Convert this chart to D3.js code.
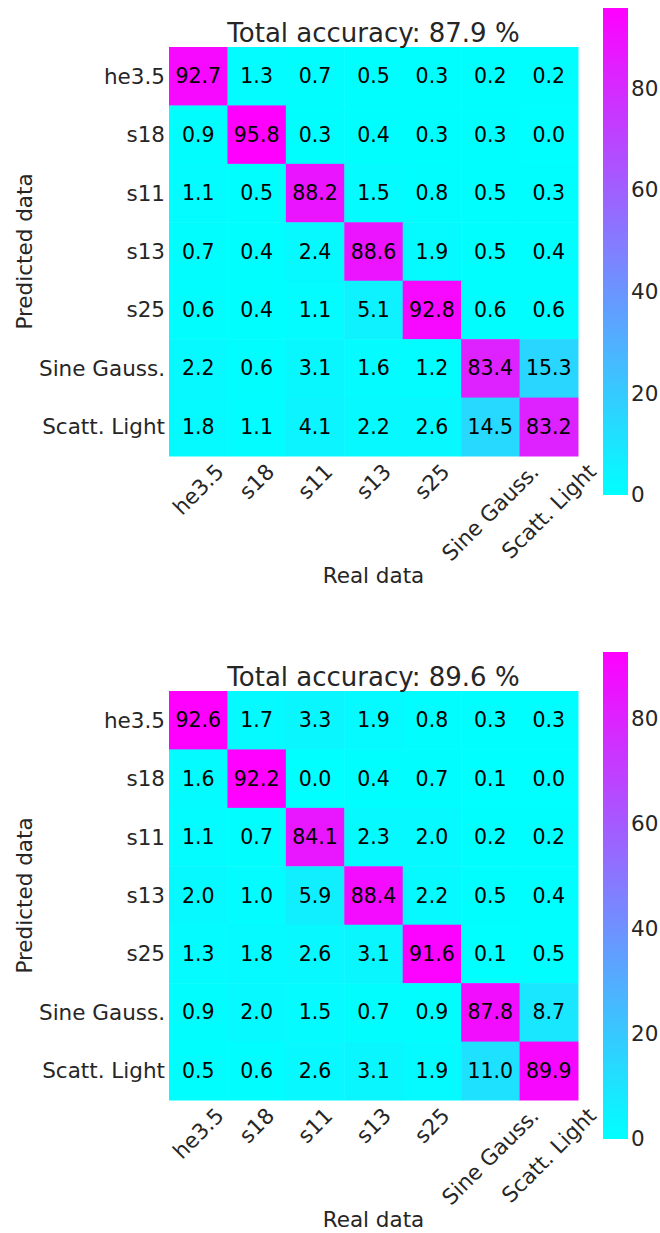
<!DOCTYPE html>
<html>
<head>
<meta charset="utf-8">
<script src="https://cdn.jsdelivr.net/npm/d3@7"></script>
<style>
  html, body { margin: 0; padding: 0; background: #fff; }
  svg { display: block; font-family: "DejaVu Sans", sans-serif; }
</style>
</head>
<body>
<svg id="chart" width="660" height="1233"></svg>
<script>
// ---- data ----
const categories = ["he3.5", "s18", "s11", "s13", "s25", "Sine Gauss.", "Scatt. Light"];
const valuesTop = [
  [92.7, 1.3, 0.7, 0.5, 0.3, 0.2, 0.2],
  [0.9, 95.8, 0.3, 0.4, 0.3, 0.3, 0.0],
  [1.1, 0.5, 88.2, 1.5, 0.8, 0.5, 0.3],
  [0.7, 0.4, 2.4, 88.6, 1.9, 0.5, 0.4],
  [0.6, 0.4, 1.1, 5.1, 92.8, 0.6, 0.6],
  [2.2, 0.6, 3.1, 1.6, 1.2, 83.4, 15.3],
  [1.8, 1.1, 4.1, 2.2, 2.6, 14.5, 83.2]
];
const valuesBottom = [
  [92.6, 1.7, 3.3, 1.9, 0.8, 0.3, 0.3],
  [1.6, 92.2, 0.0, 0.4, 0.7, 0.1, 0.0],
  [1.1, 0.7, 84.1, 2.3, 2.0, 0.2, 0.2],
  [2.0, 1.0, 5.9, 88.4, 2.2, 0.5, 0.4],
  [1.3, 1.8, 2.6, 3.1, 91.6, 0.1, 0.5],
  [0.9, 2.0, 1.5, 0.7, 0.9, 87.8, 8.7],
  [0.5, 0.6, 2.6, 3.1, 1.9, 11.0, 89.9]
];
const accuracies = [87.9, 89.6];
const colorbarTicks = [0, 20, 40, 60, 80];
const xLabel = "Real data";
const yLabel = "Predicted data";

// ---- drawing ----
const svg = d3.select("#chart");
const textColor = "#262626";
const cool = d3.interpolateRgb("#00ffff", "#ff00ff");

function drawPanel(offsetY, values, accuracy, idx) {
  const g = svg.append("g").attr("transform", `translate(0,${offsetY})`);
  const left = 169, right = 578, top = 47, bottom = 456;
  const x = d3.scaleBand().domain(categories).range([left, right]);
  const y = d3.scaleBand().domain(categories).range([top, bottom]);
  const vmax = d3.max(values.flat());
  const color = d3.scaleSequential(cool).domain([0, vmax]);

  const cells = [];
  values.forEach((row, i) => row.forEach((v, j) => cells.push({r: categories[i], c: categories[j], v})));

  g.selectAll("rect.cell").data(cells).join("rect")
    .attr("class", "cell")
    .attr("x", d => x(d.c)).attr("y", d => y(d.r))
    .attr("width", x.bandwidth() + 0.5).attr("height", y.bandwidth() + 0.5)
    .attr("fill", d => color(d.v));

  g.selectAll("text.annot").data(cells).join("text")
    .attr("class", "annot")
    .attr("x", d => x(d.c) + x.bandwidth() / 2)
    .attr("y", d => y(d.r) + y.bandwidth() / 2)
    .attr("text-anchor", "middle").attr("dominant-baseline", "central")
    .attr("font-size", 20.5).attr("fill", "#000")
    .text(d => d.v.toFixed(1));

  // y tick labels
  g.selectAll("text.ytick").data(categories).join("text")
    .attr("class", "ytick")
    .attr("x", left - 4)
    .attr("y", d => y(d) + y.bandwidth() / 2)
    .attr("text-anchor", "end").attr("dominant-baseline", "central")
    .attr("font-size", 21.5).attr("fill", textColor)
    .text(d => d);

  // x tick labels rotated 45, centered on tick (matplotlib ha=center)
  const xt = g.selectAll("text.xtick").data(categories).join("text")
    .attr("class", "xtick")
    .attr("text-anchor", "middle").attr("dominant-baseline", "central")
    .attr("font-size", 21.5).attr("fill", textColor)
    .text(d => d);
  xt.each(function(d) {
    const L = this.getComputedTextLength();
    const H = 21.5 * 1.16;
    const half = (L + H) * Math.SQRT1_2 / 2;
    const cx = x(d) + x.bandwidth() / 2;
    const cy = bottom + 3 + half;
    d3.select(this).attr("x", cx).attr("y", cy)
      .attr("transform", `rotate(-45,${cx},${cy})`);
  });

  // axis labels
  g.append("text")
    .attr("x", (left + right) / 2).attr("y", 583)
    .attr("text-anchor", "middle").attr("font-size", 21.5).attr("fill", textColor)
    .text(xLabel);
  g.append("text")
    .attr("transform", `translate(32,${(top + bottom) / 2}) rotate(-90)`)
    .attr("text-anchor", "middle").attr("font-size", 21.5).attr("fill", textColor)
    .text(yLabel);

  // title
  g.append("text")
    .attr("x", (left + right) / 2).attr("y", 42)
    .attr("text-anchor", "middle").attr("font-size", 26).attr("fill", textColor)
    .text(`Total accuracy: ${accuracy.toFixed(1)} %`);

  // colorbar
  const cbX = 603, cbW = 25, cbTop = 8, cbBottom = 495;
  const cbScale = d3.scaleLinear().domain([0, vmax]).range([cbBottom, cbTop]);
  const gradId = "cbgrad" + idx;
  const grad = svg.append("defs").append("linearGradient")
    .attr("id", gradId).attr("x1", 0).attr("y1", 1).attr("x2", 0).attr("y2", 0);
  d3.range(0, 1.0001, 0.1).forEach(t => {
    grad.append("stop").attr("offset", t).attr("stop-color", color(t * vmax));
  });
  g.append("rect")
    .attr("x", cbX).attr("y", cbTop).attr("width", cbW).attr("height", cbBottom - cbTop)
    .attr("fill", `url(#${gradId})`);
  const cbAxis = d3.axisRight(cbScale).tickValues(colorbarTicks).tickSize(0).tickPadding(3);
  const ag = g.append("g").attr("transform", `translate(${cbX + cbW},0)`).call(cbAxis);
  ag.select(".domain").remove();
  ag.selectAll("text").attr("font-size", 21.5).attr("fill", textColor)
    .attr("font-family", "DejaVu Sans, sans-serif");
}

drawPanel(0, valuesTop, accuracies[0], 0);
drawPanel(644, valuesBottom, accuracies[1], 1);
</script>
</body>
</html>
